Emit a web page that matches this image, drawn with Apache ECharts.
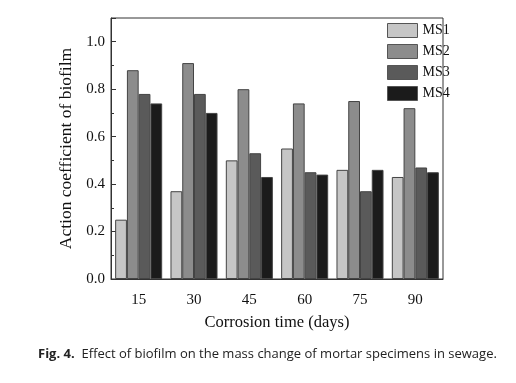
<!DOCTYPE html>
<html>
<head>
<meta charset="utf-8">
<script src="https://cdn.jsdelivr.net/npm/echarts@6/dist/echarts.min.js"></script>
<style>html,body{margin:0;padding:0;background:#fff}#c{width:516px;height:383px}</style>
</head>
<body>
<div id="c"></div>
<script>
var categories = ['15', '30', '45', '60', '75', '90'];
var seriesNames = ['MS1', 'MS2', 'MS3', 'MS4'];
var ms1 = [0.25, 0.37, 0.50, 0.55, 0.46, 0.43];
var ms2 = [0.88, 0.91, 0.80, 0.74, 0.75, 0.72];
var ms3 = [0.78, 0.78, 0.53, 0.45, 0.37, 0.47];
var ms4 = [0.74, 0.70, 0.43, 0.44, 0.46, 0.45];
var colors = ['#c6c6c6', '#8c8c8c', '#5a5a5a', '#1b1b1b'];
var values = [ms1, ms2, ms3, ms4];

var chart = echarts.init(document.getElementById('c'));
var serif = 'Liberation Serif';
chart.setOption({
  animation: false,
  backgroundColor: '#fff',
  grid: { left: 111, right: 73, top: 18, bottom: 104, show: true, borderColor: '#333', borderWidth: 1, backgroundColor: 'transparent' },
  legend: {
    orient: 'vertical', left: 387, top: 23, itemWidth: 30, itemHeight: 14, itemGap: 6,
    textStyle: { fontFamily: serif, fontSize: 14, color: '#111' },
    itemStyle: { borderWidth: 1, borderColor: '#555' },
    data: seriesNames, icon: 'rect', padding: 0
  },
  xAxis: {
    type: 'category', data: categories,
    axisLine: { lineStyle: { color: '#333' } },
    axisTick: { inside: true, length: 4, lineStyle: { color: '#333' } },
    axisLabel: { fontFamily: serif, fontSize: 15, color: '#111', margin: 14 },
    name: 'Corrosion time (days)', nameLocation: 'middle', nameGap: 35,
    nameTextStyle: { fontFamily: serif, fontSize: 16.5, color: '#111' }
  },
  yAxis: {
    type: 'value', min: 0, max: 1.1, interval: 0.2,
    axisLine: { show: true, lineStyle: { color: '#333' } },
    axisTick: { show: true, inside: true, length: 5, lineStyle: { color: '#333' } },
    minorTick: { show: true, splitNumber: 2, length: 3, lineStyle: { color: '#333' } },
    splitLine: { show: false },
    axisLabel: { fontFamily: serif, fontSize: 15, color: '#111', margin: 6, showMaxLabel: false,
      formatter: function (v) { return v > 1.05 ? '' : v.toFixed(1); } },
    name: 'Action coefficient of biofilm', nameLocation: 'middle', nameGap: 30,
    nameTextStyle: { fontFamily: serif, fontSize: 17.5, color: '#111' }
  },
  series: seriesNames.map(function (n, i) {
    return {
      name: n, type: 'bar', data: values[i], barGap: '0%', barCategoryGap: '15%',
      itemStyle: { color: colors[i], borderColor: '#444', borderWidth: 1 }
    };
  }),
  graphic: [{
    type: 'text', left: 38, top: 348,
    style: {
      rich: {
        b: { fontFamily: 'Open Sans', fontWeight: 'bold', fontSize: 13, fill: '#222' },
        n: { fontFamily: 'Open Sans', fontSize: 13, fill: '#222' }
      },
      text: '{b|Fig. 4.}{n|  Effect of biofilm on the mass change of mortar specimens in sewage.}'
    }
  }]
});
</script>
</body>
</html>
